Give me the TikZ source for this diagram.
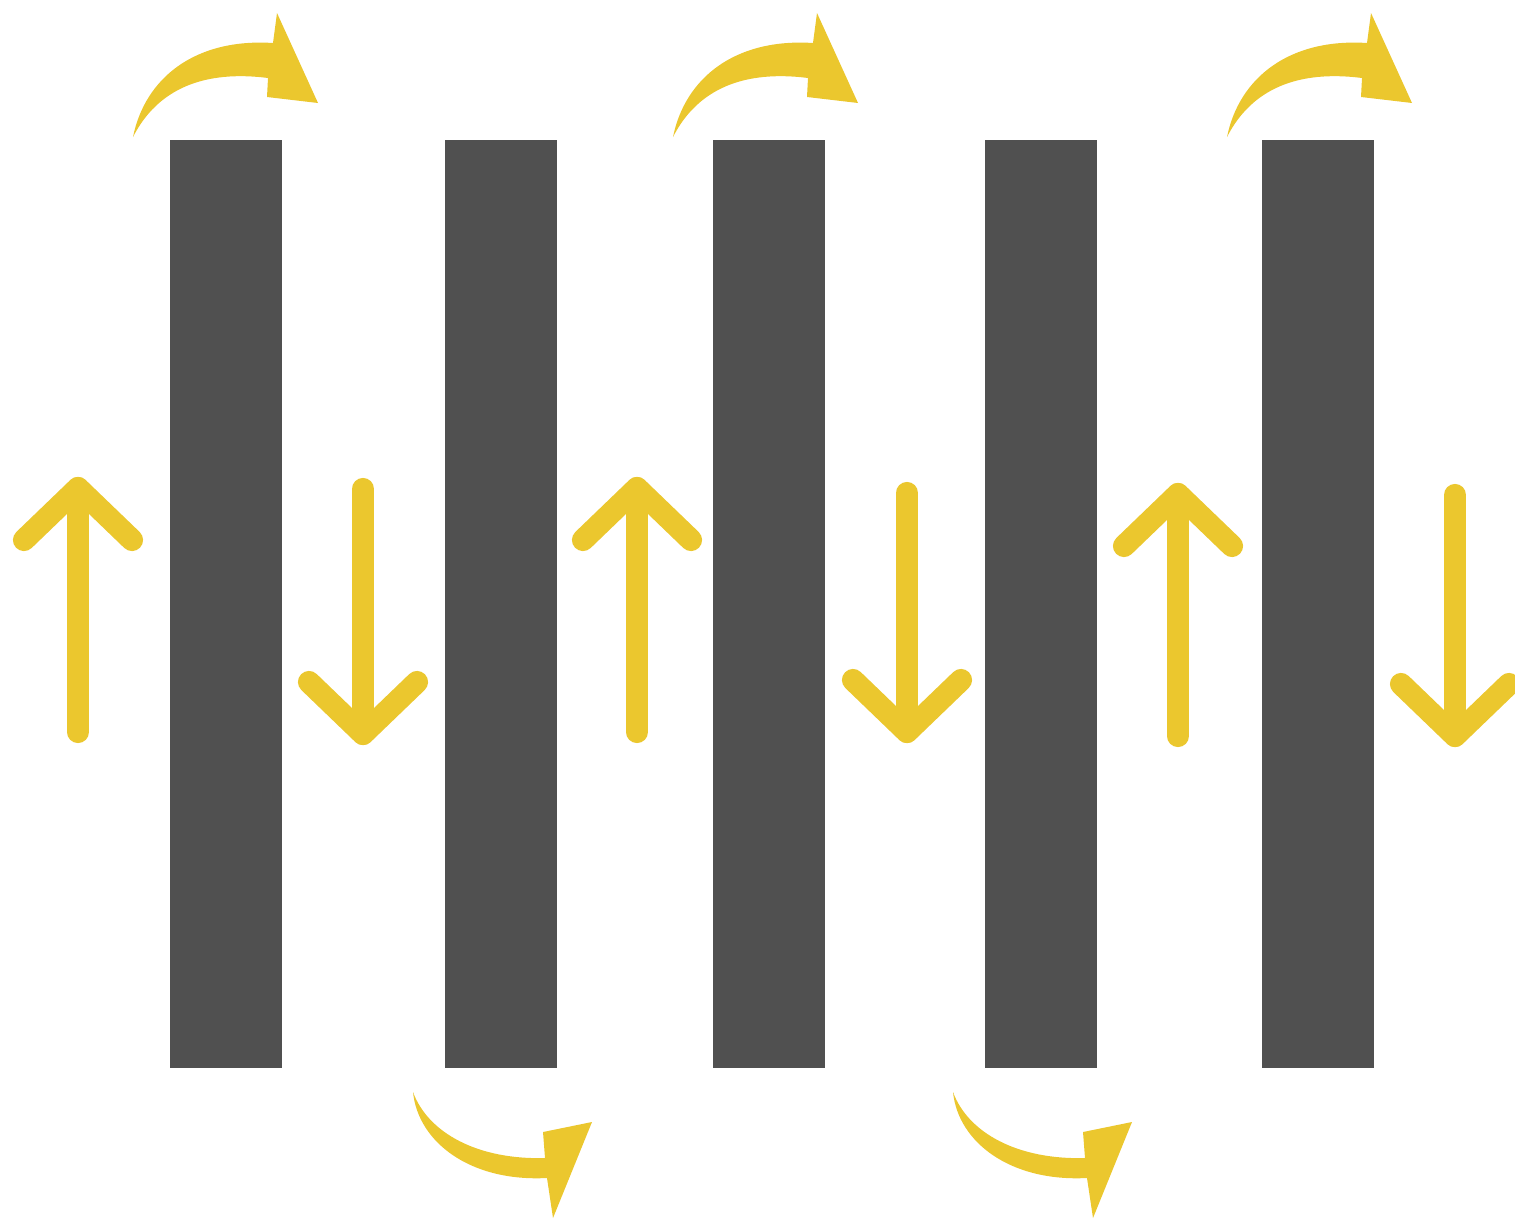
\documentclass[tikz,border=0pt]{standalone}
\usepackage{tikz}
\usetikzlibrary{arrows.meta,calc}
\definecolor{barcol}{HTML}{505050}
\definecolor{flow}{HTML}{EBC72E}
\tikzset{
  bar/.style={fill=barcol},
  straight/.style={draw=flow,line width=6.3pt,line cap=round,line join=round},
  turnarrow/.style={fill=flow}
}

\begin{document}
\begin{tikzpicture}[x=0.01cm,y=-0.01cm]
  \useasboundingbox (0,0) rectangle (1515,1221);
  % baffles
  \foreach \bx in {170,445,713,985,1262}
    \fill[bar] (\bx,140) rectangle ++(112,928);
  % upward flow between baffles
  \foreach \ax/\at/\ab in {78/488/732, 637/488/732, 1178/494/736}{
    \draw[straight] (\ax,\ab) -- (\ax,\at);
    \draw[straight] (\ax-54,\at+52) -- (\ax,\at) -- (\ax+54,\at+52);
  }
  % downward flow
  \foreach \ax/\at/\ab in {363/489/734, 907/493/732, 1455/495/736}{
    \draw[straight] (\ax,\at) -- (\ax,\ab);
    \draw[straight] (\ax-54,\ab-52) -- (\ax,\ab) -- (\ax+54,\ab-52);
  }
  % turn over the top
  \foreach \dx in {0,540,1094}{
    \fill[turnarrow,xshift=\dx*0.01cm] (133,137) .. controls (145,78) and (195,38) .. (273,43)
      -- (277,13) -- (318,103) -- (267,97) -- (268,78)
      .. controls (205,70) and (158,88) .. (133,137) -- cycle;
  }
  % turn under the bottom
  \foreach \dx in {0,540}{
    \fill[turnarrow,xshift=\dx*0.01cm] (413,1092) .. controls (418,1142) and (470,1182) .. (547,1178)
      -- (553,1218) -- (592,1122) -- (543,1132) -- (545,1158)
      .. controls (478,1160) and (428,1133) .. (413,1092) -- cycle;
  }
\end{tikzpicture}
\end{document}
